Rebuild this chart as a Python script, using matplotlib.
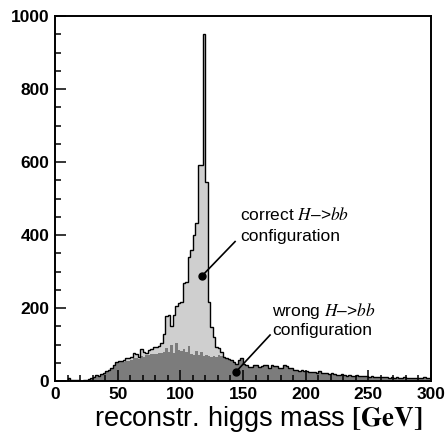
import numpy as np
import matplotlib
matplotlib.use("Agg")
import matplotlib.pyplot as plt
from matplotlib.ticker import MultipleLocator

plt.rcParams['font.family'] = ['Liberation Sans', 'DejaVu Sans']
plt.rcParams['mathtext.fontset'] = 'stix'

# 2 GeV bins from 0 to 300
bin_edges = np.arange(0, 302, 2)

# all combinations (outline)
total = [0, 0, 0, 0, 1, 7, 3, 3, 2, 2,
         1, 2, 3, 5, 9, 12, 16, 15, 20, 23,
         27, 30, 37, 45, 52, 54, 56, 57, 62, 62,
         66, 76, 74, 65, 89, 80, 78, 85, 88, 92,
         94, 96, 103, 130, 178, 180, 150, 182, 205, 213,
         217, 268, 270, 340, 359, 400, 433, 592, 592, 952,
         546, 217, 149, 121, 94, 91, 80, 67, 63, 60,
         58, 53, 48, 58, 62, 48, 44, 39, 39, 44,
         44, 39, 40, 44, 44, 35, 44, 40, 40, 36,
         36, 44, 40, 36, 35, 30, 30, 28, 29, 28,
         27, 25, 26, 24, 23, 27, 22, 22, 21, 20,
         21, 18, 17, 16, 19, 16, 15, 16, 14, 15,
         16, 13, 14, 15, 13, 12, 13, 11, 12, 10,
         11, 10, 12, 9, 10, 9, 10, 8, 9, 10,
         8, 9, 7, 8, 9, 7, 8, 10, 9, 8]

# wrong H->bb configuration (dark part)
wrong = [0, 0, 0, 0, 1, 7, 3, 3, 2, 2,
         1, 2, 3, 5, 9, 12, 16, 15, 20, 23,
         27, 30, 37, 45, 52, 54, 52, 53, 55, 56,
         58, 62, 62, 60, 68, 66, 70, 72, 74, 74,
         75, 76, 78, 80, 90, 80, 100, 78, 103, 85,
         82, 88, 80, 95, 75, 72, 82, 70, 80, 68,
         70, 68, 66, 68, 66, 70, 68, 65, 63, 60,
         58, 53, 48, 58, 62, 48, 44, 39, 39, 44,
         44, 39, 40, 44, 44, 35, 44, 40, 40, 36,
         36, 44, 40, 36, 35, 30, 30, 28, 29, 28,
         27, 25, 26, 24, 23, 27, 22, 22, 21, 20,
         21, 18, 17, 16, 19, 16, 15, 16, 14, 15,
         16, 13, 14, 15, 13, 12, 13, 11, 12, 10,
         11, 10, 12, 9, 10, 9, 10, 8, 9, 10,
         8, 9, 7, 8, 9, 7, 8, 10, 9, 8]

total = np.array(total)
wrong = np.array(wrong)

fig = plt.figure(figsize=(4.46, 4.41), dpi=100)
ax = fig.add_axes([0.1233, 0.136, 0.843, 0.8277])

ax.stairs(wrong, bin_edges, fill=True, color='#7c7c7c', lw=0)
ax.stairs(total, bin_edges, baseline=wrong, fill=True, color='#cfcfcf', lw=0)
ax.stairs(total, bin_edges, color='black', lw=1.0)

ax.set_xlim(0, 300)
ax.set_ylim(0, 1000)
ax.xaxis.set_major_locator(MultipleLocator(50))
ax.xaxis.set_minor_locator(MultipleLocator(10))
ax.yaxis.set_major_locator(MultipleLocator(200))
ax.yaxis.set_minor_locator(MultipleLocator(50))
ax.tick_params(which='both', direction='in', top=False, right=False, width=1.1)
ax.tick_params(which='major', length=8, labelsize=12.5, pad=4)
ax.tick_params(which='minor', length=4.5)
for lab in ax.get_xticklabels() + ax.get_yticklabels():
    lab.set_fontweight('bold')
for s in ax.spines.values():
    s.set_linewidth(1.4)

ax.set_xlabel(r'reconstr. higgs mass $\mathbf{[GeV]}$', fontsize=19.5)
ax.xaxis.set_label_coords(0.54, -0.062)

# annotations
ax.text(147.5, 455, r'correct $H$–>$bb$', fontsize=12.5, va='center')
ax.text(147.5, 397, 'configuration', fontsize=12.5, va='center')
ax.plot([117.3, 143.7], [288, 382], color='black', lw=1.2)
ax.plot(117.3, 288, 'o', color='black', ms=5)

ax.text(173, 192, r'wrong $H$–>$bb$', fontsize=12.5, va='center')
ax.text(173, 138, 'configuration', fontsize=12.5, va='center')
ax.plot([144.5, 171.6], [25.6, 126], color='black', lw=1.2)
ax.plot(144.5, 25.6, 'o', color='black', ms=5)

fig.savefig('out.png', dpi=100)
